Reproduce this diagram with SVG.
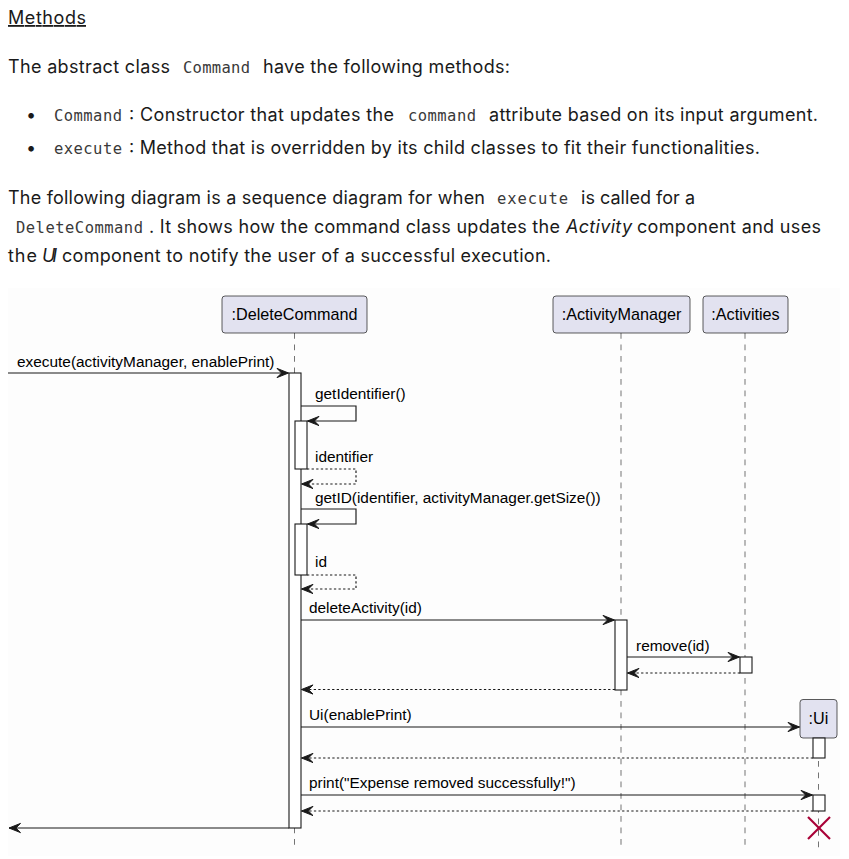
<svg xmlns="http://www.w3.org/2000/svg" width="849" height="859" viewBox="0 0 849 859">
<style>
.body{font-family:Inter,"Liberation Sans",Arial,sans-serif;font-size:18px;fill:#1a1a1a}
.it{font-style:italic}
.code{font-family:"DejaVu Sans Mono","Liberation Mono",monospace;font-size:15.5px;fill:#3a3a3a}
.msg{font-family:"Liberation Sans",Arial,sans-serif;font-size:15.4px;fill:#000}
.pname{font-family:"Liberation Sans",Arial,sans-serif;font-size:16.2px;fill:#000;text-anchor:middle}
.participant rect{fill:#E2E2F0;stroke:#181818;stroke-width:0.7}
.lifeline{stroke:#181818;stroke-width:0.6;stroke-dasharray:5.75 5.75;fill:none}
.act{fill:#fff;stroke:#181818;stroke-width:1.1}
.m{stroke:#181818;stroke-width:1.15;fill:none;marker-end:url(#ah)}
.ret{stroke-dasharray:2.3 2.3}
</style>
<defs>
<marker id="ah" markerUnits="userSpaceOnUse" markerWidth="14" markerHeight="12" viewBox="-13 -6 14 12" refX="0" refY="0" orient="auto" style="overflow:visible">
<path d="M-11.5,-4.6 L0,0 L-11.5,4.6 L-6.9,0 Z" fill="#181818" stroke="#181818" stroke-width="1"/>
</marker>
</defs>
<rect x="0" y="0" width="849" height="859" fill="#fff"/>

<g id="prose">
<text class="body" x="8" y="24" textLength="78" text-decoration="underline">Methods</text>
<text class="body" x="8" y="73" textLength="162">The abstract class</text>
<text class="code" x="183" y="73" textLength="67">Command</text>
<text class="body" x="263" y="73" textLength="247">have the following methods:</text>

<text class="body" x="26" y="121">•</text>
<text class="code" x="54" y="121" textLength="68">Command</text>
<text class="body" x="129" y="121" textLength="265">: Constructor that updates the</text>
<text class="code" x="408" y="121" textLength="68">command</text>
<text class="body" x="489" y="121" textLength="329">attribute based on its input argument.</text>

<text class="body" x="26" y="154">•</text>
<text class="code" x="54" y="154" textLength="68">execute</text>
<text class="body" x="129" y="154" textLength="631">: Method that is overridden by its child classes to fit their functionalities.</text>

<text class="body" x="8" y="204" textLength="477">The following diagram is a sequence diagram for when</text>
<text class="code" x="497" y="204" textLength="71">execute</text>
<text class="body" x="581" y="204" textLength="114">is called for a</text>

<text class="code" x="16" y="233" textLength="127">DeleteCommand</text>
<text class="body" x="149" y="233" textLength="411">. It shows how the command class updates the</text>
<text class="body it" x="566" y="233" textLength="66">Activity</text>
<text class="body" x="637" y="233" textLength="184">component and uses</text>

<text class="body" x="8" y="262" textLength="29">the</text>
<text class="body it" x="42" y="262" textLength="15">UI</text>
<text class="body" x="62" y="262" textLength="489">component to notify the user of a successful execution.</text>
</g>

<rect x="8" y="288" width="832" height="568" fill="#FDFDFD"/>

<g id="lifelines">
<line class="lifeline" x1="294.5" y1="333" x2="294.5" y2="848"/>
<line class="lifeline" x1="621" y1="333" x2="621" y2="848"/>
<line class="lifeline" x1="745" y1="333" x2="745" y2="848"/>
<line class="lifeline" x1="818.5" y1="738" x2="818.5" y2="848"/>
</g>

<g id="DeleteCommand" class="participant">
<rect x="222" y="296" width="145" height="37" rx="3"/>
<text class="pname" x="294.5" y="320">:DeleteCommand</text>
</g>
<g id="ActivityManager" class="participant">
<rect x="553" y="296" width="137" height="37" rx="3"/>
<text class="pname" x="621.5" y="320">:ActivityManager</text>
</g>
<g id="Activities" class="participant">
<rect x="703" y="296" width="85" height="37" rx="3"/>
<text class="pname" x="745.5" y="320">:Activities</text>
</g>
<g id="Ui" class="participant">
<rect x="800" y="699.5" width="37" height="38.5" rx="3"/>
<text class="pname" x="818.5" y="724">:Ui</text>
</g>

<g id="activations">
<rect class="act" x="289" y="373" width="12" height="455"/>
<rect class="act" x="295" y="421" width="12" height="48"/>
<rect class="act" x="295" y="524" width="12" height="51"/>
<rect class="act" x="615" y="620" width="12" height="70"/>
<rect class="act" x="740" y="657" width="12" height="16"/>
<rect class="act" x="813" y="738" width="12" height="20"/>
<rect class="act" x="813" y="795" width="12" height="16"/>
</g>

<g id="connectors">
<line class="m" x1="8" y1="373" x2="288.5" y2="373"/>
<text class="msg" x="17" y="367">execute(activityManager, enablePrint)</text>

<polyline class="m" points="301,406 356,406 356,421 307.5,421"/>
<text class="msg" x="315" y="399">getIdentifier()</text>

<polyline class="m ret" points="307,469 356,469 356,484 301.5,484"/>
<text class="msg" x="315" y="462">identifier</text>

<polyline class="m" points="301,509 356,509 356,524 307.5,524"/>
<text class="msg" x="315" y="503">getID(identifier, activityManager.getSize())</text>

<polyline class="m ret" points="307,575 356,575 356,589 301.5,589"/>
<text class="msg" x="315" y="567">id</text>

<line class="m" x1="301" y1="620" x2="614.5" y2="620"/>
<text class="msg" x="309" y="613">deleteActivity(id)</text>

<line class="m" x1="627" y1="657" x2="739.5" y2="657"/>
<text class="msg" x="636" y="651">remove(id)</text>

<line class="m ret" x1="740" y1="673" x2="627.5" y2="673"/>
<line class="m ret" x1="615" y1="689.5" x2="301.5" y2="689.5"/>

<line class="m" x1="301" y1="727" x2="799.5" y2="727"/>
<text class="msg" x="309" y="720">Ui(enablePrint)</text>

<line class="m ret" x1="813" y1="758" x2="301.5" y2="758"/>

<line class="m" x1="301" y1="795" x2="812.5" y2="795"/>
<text class="msg" x="309" y="788">print("Expense removed successfully!")</text>

<line class="m ret" x1="813" y1="811" x2="301.5" y2="811"/>

<line class="m" x1="289" y1="828" x2="9" y2="828"/>

<g id="destroy" stroke="#A80036" stroke-width="2.2">
<line x1="808" y1="817" x2="830" y2="839"/>
<line x1="830" y1="817" x2="808" y2="839"/>
</g>
</g>
</svg>
